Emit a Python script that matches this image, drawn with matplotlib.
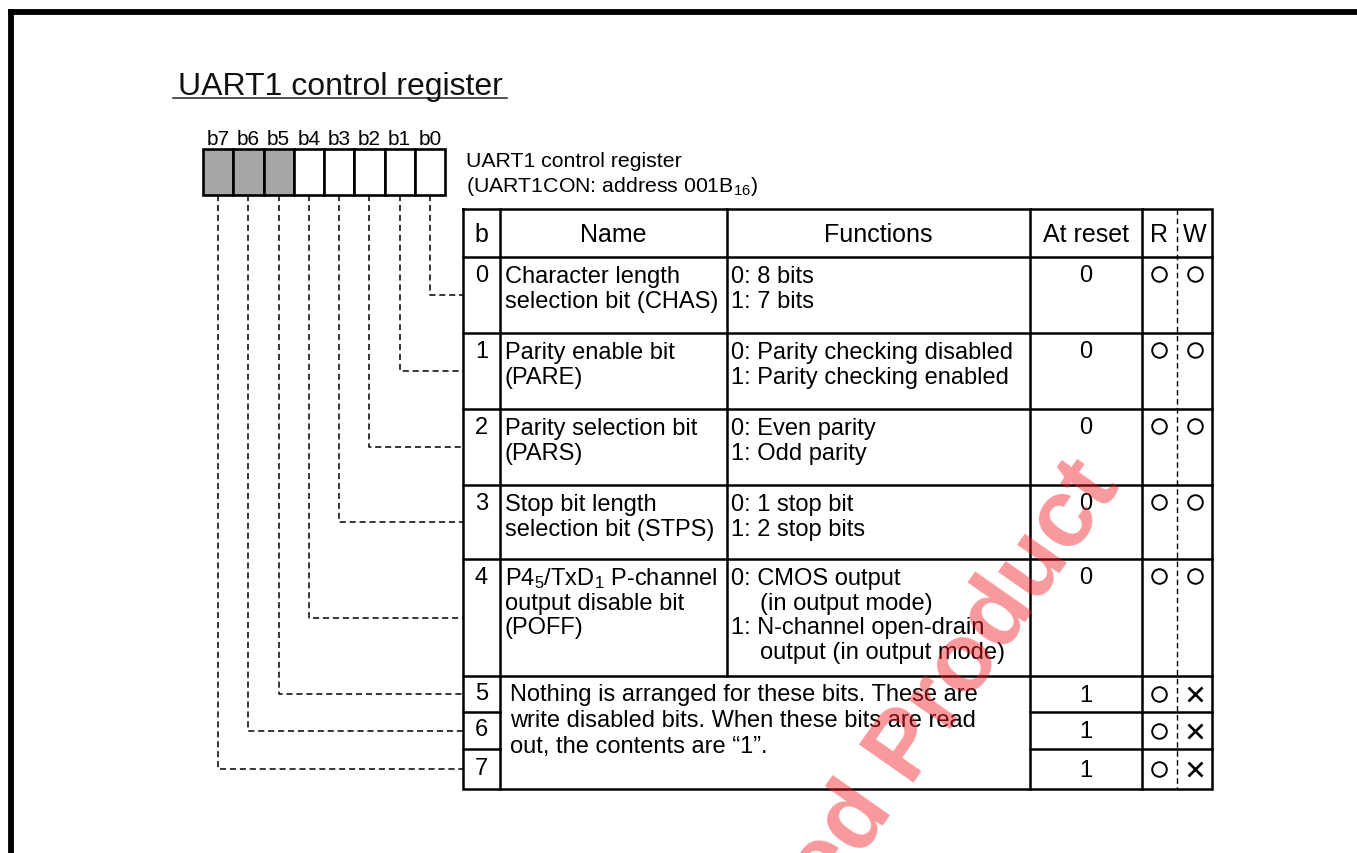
import matplotlib
matplotlib.use("Agg")
import matplotlib.pyplot as plt

# ---------------- data ----------------
title = "UART1 control register"
reg_caption = ["UART1 control register", "(UART1CON: address 001B$\\mathregular{_{16}}$)"]
bit_labels = ["b7", "b6", "b5", "b4", "b3", "b2", "b1", "b0"]
reserved_bits = [7, 6, 5]
headers = ["b", "Name", "Functions", "At reset", "R", "W"]
bits = ["0", "1", "2", "3", "4", "5", "6", "7"]
names = [
    ["Character length", "selection bit (CHAS)"],
    ["Parity enable bit", "(PARE)"],
    ["Parity selection bit", "(PARS)"],
    ["Stop bit length", "selection bit (STPS)"],
    ["P4$\\mathregular{_5}$/TxD$\\mathregular{_1}$ P-channel", "output disable bit", "(POFF)"],
]
functions = [
    [("0: 8 bits", 0), ("1: 7 bits", 0)],
    [("0: Parity checking disabled", 0), ("1: Parity checking enabled", 0)],
    [("0: Even parity", 0), ("1: Odd parity", 0)],
    [("0: 1 stop bit", 0), ("1: 2 stop bits", 0)],
    [("0: CMOS output", 0), ("(in output mode)", 1), ("1: N-channel open-drain", 0), ("output (in output mode)", 1)],
]
note = ["Nothing is arranged for these bits. These are",
        "write disabled bits. When these bits are read",
        "out, the contents are \u201c1\u201d."]
at_reset = ["0", "0", "0", "0", "0", "1", "1", "1"]
read_ok = ["O", "O", "O", "O", "O", "O", "O", "O"]
write_ok = ["O", "O", "O", "O", "O", "X", "X", "X"]
watermark = "Not Recommended Product"

# ---------------- layout ----------------
W, H = 1357, 854
fig = plt.figure(figsize=(W / 100, H / 100), dpi=100)
ax = fig.add_axes([0, 0, 1, 1])
ax.set_xlim(0, W)
ax.set_ylim(H, 0)
ax.axis("off")
FONT = "Liberation Sans"
BODY = 17
LW = 1.8

# frame
ax.plot([8, W], [12.5, 12.5], color="black", lw=4.2, solid_capstyle="butt")
ax.plot([10.5, 10.5], [10, H], color="black", lw=4.2, solid_capstyle="butt")

# title
ax.text(178, 95, title, fontsize=23, family=FONT, va="baseline", ha="left", color="#111111")
ax.plot([173, 507], [99, 99], color="#333333", lw=1.2)

# register boxes
bx0, bw, by0, by1 = 203, 30.25, 150, 196
for i, lab in enumerate(bit_labels):
    x = bx0 + i * bw
    bitno = 7 - i
    fc = "#a6a6a6" if bitno in reserved_bits else "white"
    ax.add_patch(plt.Rectangle((x, by0), bw, by1 - by0, facecolor=fc,
                               edgecolor="black", lw=1.9))
    ax.text(x + bw / 2, 145, lab, fontsize=15, family=FONT, ha="center", va="baseline")

ax.text(466, 167, reg_caption[0], fontsize=15.3, family=FONT, va="baseline")
ax.text(466, 192, reg_caption[1], fontsize=15.3, family=FONT, va="baseline")

# table geometry
cx = [463, 500, 727, 1030, 1142, 1177, 1212]
ty_top, ty_head = 210, 258
row_edges = [258, 334, 410, 486, 560, 677, 713, 750, 790]

# header
head_mid = (ty_top + ty_head) / 2 + 1
for j, h in enumerate(headers):
    xm = (cx[j] + cx[j + 1]) / 2
    ax.text(xm, head_mid, h, fontsize=18, family=FONT, ha="center", va="center")

# outer box and grid
ax.plot([cx[0], cx[-1], cx[-1], cx[0], cx[0]],
        [ty_top, ty_top, row_edges[-1], row_edges[-1], ty_top], color="black", lw=LW,
        solid_joinstyle="miter")
ax.plot([cx[0], cx[-1]], [ty_head, ty_head], color="black", lw=LW)
ax.plot([cx[1], cx[1]], [ty_top, row_edges[-1]], color="black", lw=LW)
ax.plot([cx[2], cx[2]], [ty_top, row_edges[5]], color="black", lw=LW)
ax.plot([cx[3], cx[3]], [ty_top, row_edges[-1]], color="black", lw=LW)
ax.plot([cx[4], cx[4]], [ty_top, row_edges[-1]], color="black", lw=LW)
ax.plot([cx[5], cx[5]], [ty_top, row_edges[-1]], color="black", lw=1.0,
        dashes=(4, 2.5))
for k, y in enumerate(row_edges[1:-1], start=1):
    if k <= 5:
        ax.plot([cx[0], cx[-1]], [y, y], color="black", lw=LW)
    else:
        ax.plot([cx[0], cx[1]], [y, y], color="black", lw=LW)
        ax.plot([cx[3], cx[-1]], [y, y], color="black", lw=LW)

PITCH = 24.5
for r in range(8):
    top, bot = row_edges[r], row_edges[r + 1]
    if r < 5:
        base = top + 24
        ax.text((cx[0] + cx[1]) / 2, base, bits[r], fontsize=BODY, family=FONT, ha="center", va="baseline")
        for i, line in enumerate(names[r]):
            ax.text(cx[1] + 5, base + 1.5 + i * PITCH, line, fontsize=BODY, family=FONT, va="baseline")
        for i, (line, ind) in enumerate(functions[r]):
            ax.text(cx[2] + 4 + ind * 29, base + 1.5 + i * PITCH, line, fontsize=BODY, family=FONT, va="baseline")
        ax.text((cx[3] + cx[4]) / 2, base, at_reset[r], fontsize=BODY, family=FONT, ha="center", va="baseline")
        ymark = base - 7
    else:
        base = (top + bot) / 2 + 7
        ax.text((cx[0] + cx[1]) / 2, base - 2, bits[r], fontsize=BODY, family=FONT, ha="center", va="baseline")
        ax.text((cx[3] + cx[4]) / 2, base, at_reset[r], fontsize=BODY, family=FONT, ha="center", va="baseline")
        ymark = base - 7
    for val, xc in ((read_ok[r], (cx[4] + cx[5]) / 2 - 1), (write_ok[r], (cx[5] + cx[6]) / 2)):
        if val == "O":
            ax.plot([xc], [ymark], marker="o", ms=10.5, mfc="none", mec="black", mew=1.4)
        else:
            ax.plot([xc], [ymark], marker="x", ms=10.5, mec="black", mew=1.9)

for i, line in enumerate(note):
    ax.text(cx[1] + 10, row_edges[5] + 24 + i * 26, line, fontsize=BODY, family=FONT, va="baseline")

# connector dashed lines
for r in range(8):
    i = 7 - r
    xv = bx0 + i * bw + bw / 2
    yc = (row_edges[r] + row_edges[r + 1]) / 2
    ax.plot([xv, xv, cx[0]], [by1, yc, yc], color="black", lw=1.1, dashes=(4, 2.5))

# watermark
ax.text(1100, 472, watermark, fontsize=70, family=FONT, weight="bold", color="#ee1c25",
        alpha=0.45, rotation=55, rotation_mode="anchor", ha="right", va="center", zorder=10)

fig.savefig("out.png", dpi=100)
